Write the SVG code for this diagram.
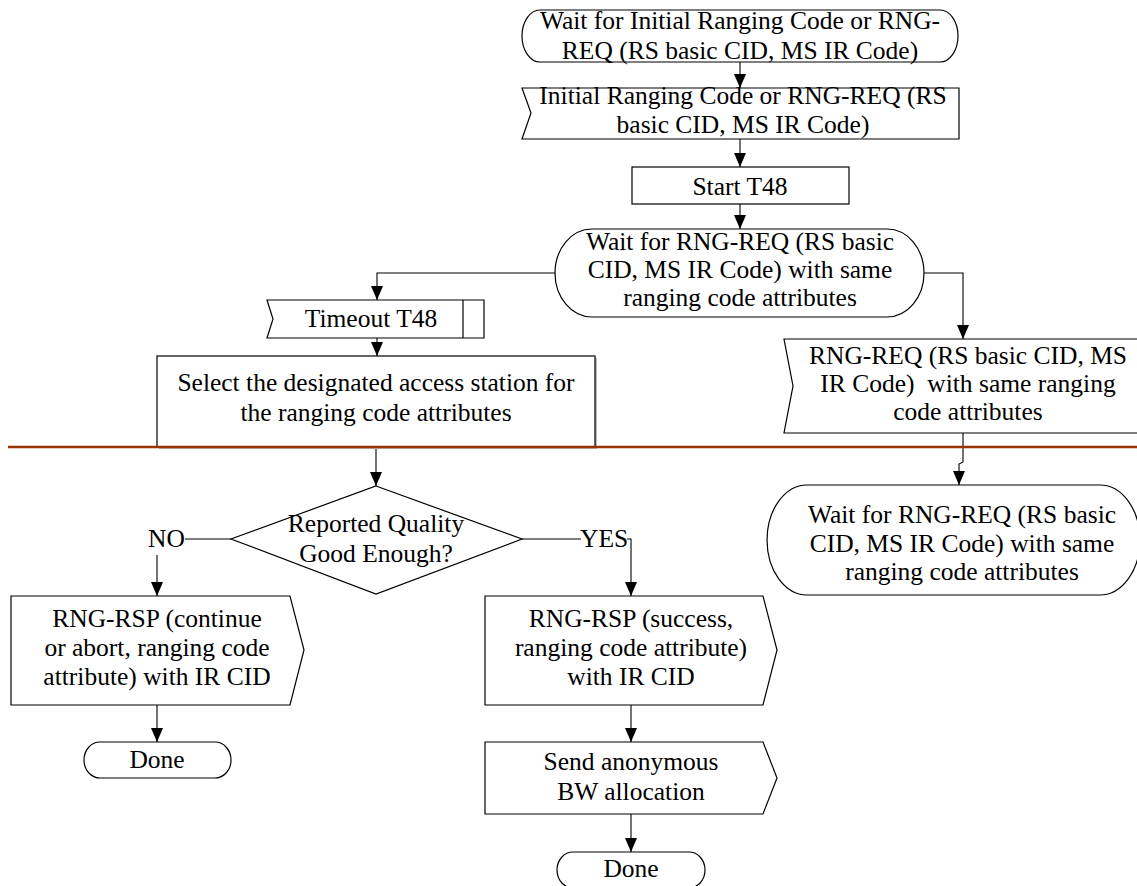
<svg xmlns="http://www.w3.org/2000/svg" width="1137" height="886" viewBox="0 0 1137 886">
<style>
.s{fill:#fff;stroke:#000;stroke-width:1.2}
.t{font-family:"Liberation Serif","Times New Roman",serif;font-size:25.5px;fill:#000;text-anchor:middle}
.l{font-family:"Liberation Serif","Times New Roman",serif;font-size:25.5px;fill:#000}
.c{fill:none;stroke:#000;stroke-width:1.1}
</style>
<defs>
<marker id="ah" markerUnits="userSpaceOnUse" markerWidth="14" markerHeight="12" refX="14" refY="6" orient="auto">
<path d="M0,0 L14,6 L0,12 Z" fill="#000"/>
</marker>
</defs>
<rect width="1137" height="886" fill="#fff"/>

<g id="connectors">
<path class="c" d="M740,62 V88" marker-end="url(#ah)"/>
<path class="c" d="M740,139 V167" marker-end="url(#ah)"/>
<path class="c" d="M740,204 V229" marker-end="url(#ah)"/>
<path class="c" d="M556,273 H377 V300" marker-end="url(#ah)"/>
<path class="c" d="M923,273 H963 V339" marker-end="url(#ah)"/>
<path class="c" d="M377,338 V356" marker-end="url(#ah)"/>
<path class="c" d="M376,447 V486" marker-end="url(#ah)"/>
<path class="c" d="M231,539 H185"/>
<path class="c" d="M157,555 V596" marker-end="url(#ah)"/>
<path class="c" d="M522,539 H581"/>
<path class="c" d="M627,539 H631 V596" marker-end="url(#ah)"/>
<path class="c" d="M963,433 V462 L959,464 V485" marker-end="url(#ah)"/>
<path class="c" d="M157,705 V742" marker-end="url(#ah)"/>
<path class="c" d="M631,705 V742" marker-end="url(#ah)"/>
<path class="c" d="M631,814 V852" marker-end="url(#ah)"/>
<text class="l" x="148" y="547">NO</text>
<text class="l" x="580" y="547">YES</text>
</g>

<g id="n1">
<path class="s" d="M540,10 H940 A18,26 0 0 1 940,62 H540 A18,26 0 0 1 540,10 Z"/>
<text class="t" x="740" y="29">Wait for Initial Ranging Code or RNG-</text>
<text class="t" x="740" y="59">REQ (RS basic CID, MS IR Code)</text>
</g>

<g id="n2">
<polygon class="s" points="522,88 959,88 959,139 522,139 531,113"/>
<text class="t" x="743" y="104">Initial Ranging Code or RNG-REQ (RS</text>
<text class="t" x="743" y="133">basic CID, MS IR Code)</text>
</g>

<g id="n3">
<rect class="s" x="632" y="167" width="217" height="37"/>
<text class="t" x="740" y="195">Start T48</text>
</g>

<g id="n4">
<path class="s" d="M592,229 H887 A37,44 0 0 1 887,317 H592 A37,44 0 0 1 592,229 Z"/>
<text class="t" x="740" y="250">Wait for RNG-REQ (RS basic</text>
<text class="t" x="740" y="278">CID, MS IR Code) with same</text>
<text class="t" x="740" y="306">ranging code attributes</text>
</g>

<g id="n5">
<polygon class="s" points="267,300 484,300 484,338 267,338 273,319"/>
<line x1="463" y1="300" x2="463" y2="338" stroke="#000" stroke-width="1.2"/>
<text class="t" x="371" y="327">Timeout T48</text>
</g>

<g id="n6">
<rect x="159" y="358" width="438" height="91" fill="#bbb"/>
<rect class="s" x="157" y="356" width="438" height="91"/>
<text class="t" x="376" y="391">Select the designated access station for</text>
<text class="t" x="376" y="421">the ranging code attributes</text>
</g>

<g id="n7">
<polygon class="s" points="784,339 1150,339 1150,433 784,433 793,386"/>
<text class="t" x="968" y="364">RNG-REQ (RS basic CID, MS</text>
<text class="t" x="968" y="392" xml:space="preserve">IR Code)  with same ranging</text>
<text class="t" x="968" y="420">code attributes</text>
</g>

<g id="divider">
<line x1="8" y1="447" x2="1137" y2="447" stroke="#993300" stroke-width="2.5"/>
</g>

<g id="n8">
<path class="s" d="M807,485 H1100 A40,55 0 0 1 1100,595 H807 A40,55 0 0 1 807,485 Z"/>
<text class="t" x="962" y="523">Wait for RNG-REQ (RS basic</text>
<text class="t" x="962" y="552">CID, MS IR Code) with same</text>
<text class="t" x="962" y="580">ranging code attributes</text>
</g>

<g id="n9">
<polygon class="s" points="376,486 522,539 376,594 231,539"/>
<text class="t" x="376" y="532">Reported Quality</text>
<text class="t" x="376" y="562">Good Enough?</text>
</g>

<g id="n10">
<polygon class="s" points="11,596 290,596 304,650 290,705 11,705"/>
<text class="t" x="157" y="627">RNG-RSP (continue</text>
<text class="t" x="157" y="656">or abort, ranging code</text>
<text class="t" x="157" y="685">attribute) with IR CID</text>
</g>

<g id="n11">
<path class="s" d="M100,742 H215 A16,18 0 0 1 215,778 H100 A16,18 0 0 1 100,742 Z"/>
<text class="t" x="157" y="768">Done</text>
</g>

<g id="n12">
<polygon class="s" points="485,596 763,596 777,650 763,705 485,705"/>
<text class="t" x="631" y="627">RNG-RSP (success,</text>
<text class="t" x="631" y="656">ranging code attribute)</text>
<text class="t" x="631" y="685">with IR CID</text>
</g>

<g id="n13">
<polygon class="s" points="485,742 763,742 777,778 763,814 485,814"/>
<text class="t" x="631" y="770">Send anonymous</text>
<text class="t" x="631" y="800">BW allocation</text>
</g>

<g id="n14">
<path class="s" d="M573,852 H689 A16,18 0 0 1 689,888 H573 A16,18 0 0 1 573,852 Z"/>
<text class="t" x="631" y="877">Done</text>
</g>
</svg>
